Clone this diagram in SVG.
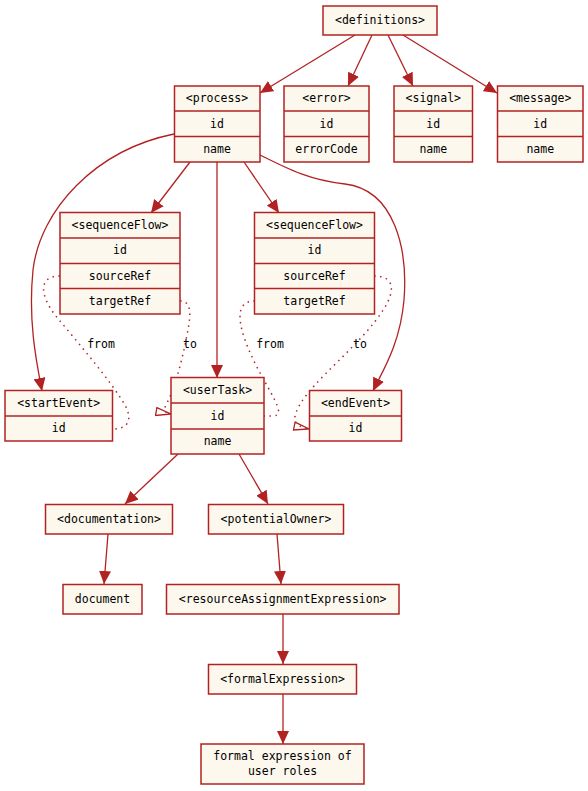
<svg xmlns="http://www.w3.org/2000/svg" width="588" height="791" viewBox="0 0 588 791">
<defs>
<style>
.box{fill:#fdf8ee;stroke:#b22222;stroke-width:1.5}
.sep{stroke:#b22222;stroke-width:1.5}
text{font-family:"DejaVu Sans Mono","Liberation Mono",monospace;font-size:11.5px;fill:#000;text-anchor:middle}
.edge{fill:none;stroke:#b22222;stroke-width:1.3}
.dot{fill:none;stroke:#b22222;stroke-width:1.5;stroke-dasharray:1.5 4.5}
</style>
<marker id="arr" markerUnits="userSpaceOnUse" markerWidth="14" markerHeight="12" refX="13" refY="6" orient="auto">
<path d="M0,0 L13,6 L0,12 Z" fill="#b22222"/>
</marker>
<marker id="open" markerUnits="userSpaceOnUse" markerWidth="17" markerHeight="10" refX="16" refY="5" orient="auto">
<path d="M1,1 L16,5 L1,9 Z" fill="none" stroke="#b22222" stroke-width="1.3"/>
</marker>
</defs>
<g id="connectors">
<path class="edge" d="M355,35 L260,93" marker-end="url(#arr)"/>
<path class="edge" d="M372,35 L348,86" marker-end="url(#arr)"/>
<path class="edge" d="M388,35 L413,86" marker-end="url(#arr)"/>
<path class="edge" d="M403,35 L497,93" marker-end="url(#arr)"/>
<path class="edge" d="M190,162 L151,213" marker-end="url(#arr)"/>
<path class="edge" d="M244,162 L279,213" marker-end="url(#arr)"/>
<path class="edge" d="M217,162 L217,378" marker-end="url(#arr)"/>
<path class="edge" d="M174,134 C95,150 40,210 33,270 C28,320 36,360 42,391" marker-end="url(#arr)"/>
<path class="edge" d="M260,155 C290,170 310,180 345,184 C395,190 408,250 404,300 C400,345 382,372 373,391" marker-end="url(#arr)"/>
<path class="edge" d="M178,454 L125,504" marker-end="url(#arr)"/>
<path class="edge" d="M239,454 L268,504" marker-end="url(#arr)"/>
<path class="edge" d="M108,534 L104,584" marker-end="url(#arr)"/>
<path class="edge" d="M277,534 L281,584" marker-end="url(#arr)"/>
<path class="edge" d="M283,614 L283,664" marker-end="url(#arr)"/>
<path class="edge" d="M283,694 L283,744" marker-end="url(#arr)"/>
<path class="dot" d="M60,276 C38,276 40,295 55,315 C80,345 110,380 125,405 C133,420 128,429 113,429"/>
<path class="dot" d="M180,301 C194,301 190,320 186,340 C181,365 174,390 166,405 C163,411 165,413 171,414" marker-end="url(#open)"/>
<path class="dot" d="M255,301 C236,301 238,320 245,340 C255,368 272,392 277,405 C282,418 274,416 264,416"/>
<path class="dot" d="M374,276 C396,276 394,292 385,307 C362,345 312,380 298,408 C292,420 294,426 309,429" marker-end="url(#open)"/>
<text x="101" y="348">from</text>
<text x="190" y="348">to</text>
<text x="270" y="348">from</text>
<text x="360" y="348">to</text>
</g>
<g id="definitions">
<rect class="box" x="323" y="6" width="114" height="29"/>
<text x="380" y="24">&lt;definitions&gt;</text>
</g>
<g id="process">
<rect class="box" x="174.5" y="86" width="85.5" height="76"/>
<line class="sep" x1="174.5" y1="111" x2="260" y2="111"/>
<line class="sep" x1="174.5" y1="136.5" x2="260" y2="136.5"/>
<text x="217" y="102">&lt;process&gt;</text>
<text x="217" y="127.5">id</text>
<text x="217" y="153">name</text>
</g>
<g id="error">
<rect class="box" x="284" y="86" width="85" height="76"/>
<line class="sep" x1="284" y1="111" x2="369" y2="111"/>
<line class="sep" x1="284" y1="136.5" x2="369" y2="136.5"/>
<text x="326.5" y="102">&lt;error&gt;</text>
<text x="326.5" y="127.5">id</text>
<text x="326.5" y="153">errorCode</text>
</g>
<g id="signal">
<rect class="box" x="394" y="86" width="78.5" height="76"/>
<line class="sep" x1="394" y1="111" x2="472.5" y2="111"/>
<line class="sep" x1="394" y1="136.5" x2="472.5" y2="136.5"/>
<text x="433.3" y="102">&lt;signal&gt;</text>
<text x="433.3" y="127.5">id</text>
<text x="433.3" y="153">name</text>
</g>
<g id="message">
<rect class="box" x="497.5" y="86" width="85.5" height="76"/>
<line class="sep" x1="497.5" y1="111" x2="583" y2="111"/>
<line class="sep" x1="497.5" y1="136.5" x2="583" y2="136.5"/>
<text x="540.3" y="102">&lt;message&gt;</text>
<text x="540.3" y="127.5">id</text>
<text x="540.3" y="153">name</text>
</g>
<g id="sequenceFlow1">
<rect class="box" x="60" y="212.5" width="120" height="101.5"/>
<line class="sep" x1="60" y1="238" x2="180" y2="238"/>
<line class="sep" x1="60" y1="263.5" x2="180" y2="263.5"/>
<line class="sep" x1="60" y1="288.5" x2="180" y2="288.5"/>
<text x="120" y="228.5">&lt;sequenceFlow&gt;</text>
<text x="120" y="254">id</text>
<text x="120" y="279.5">sourceRef</text>
<text x="120" y="304.5">targetRef</text>
</g>
<g id="sequenceFlow2">
<rect class="box" x="254.5" y="212.5" width="120" height="101.5"/>
<line class="sep" x1="254.5" y1="238" x2="374.5" y2="238"/>
<line class="sep" x1="254.5" y1="263.5" x2="374.5" y2="263.5"/>
<line class="sep" x1="254.5" y1="288.5" x2="374.5" y2="288.5"/>
<text x="314.5" y="228.5">&lt;sequenceFlow&gt;</text>
<text x="314.5" y="254">id</text>
<text x="314.5" y="279.5">sourceRef</text>
<text x="314.5" y="304.5">targetRef</text>
</g>
<g id="startEvent">
<rect class="box" x="5" y="390.5" width="107.5" height="50.5"/>
<line class="sep" x1="5" y1="416" x2="112.5" y2="416"/>
<text x="58.7" y="406.5">&lt;startEvent&gt;</text>
<text x="58.7" y="432">id</text>
</g>
<g id="userTask">
<rect class="box" x="171" y="377.5" width="93" height="76.5"/>
<line class="sep" x1="171" y1="403" x2="264" y2="403"/>
<line class="sep" x1="171" y1="429" x2="264" y2="429"/>
<text x="217.5" y="393.5">&lt;userTask&gt;</text>
<text x="217.5" y="419.5">id</text>
<text x="217.5" y="445">name</text>
</g>
<g id="endEvent">
<rect class="box" x="309.5" y="390.5" width="92" height="50.5"/>
<line class="sep" x1="309.5" y1="416" x2="401.5" y2="416"/>
<text x="355.5" y="406.5">&lt;endEvent&gt;</text>
<text x="355.5" y="432">id</text>
</g>
<g id="documentation">
<rect class="box" x="45.5" y="504.5" width="127" height="29.5"/>
<text x="109" y="522.5">&lt;documentation&gt;</text>
</g>
<g id="potentialOwner">
<rect class="box" x="208.5" y="504.5" width="135" height="29.5"/>
<text x="276" y="522.5">&lt;potentialOwner&gt;</text>
</g>
<g id="document">
<rect class="box" x="63" y="584.5" width="79" height="29.5"/>
<text x="102.5" y="602.5">document</text>
</g>
<g id="resourceAssignmentExpression">
<rect class="box" x="166.5" y="584.5" width="232.5" height="29.5"/>
<text x="282.7" y="602.5">&lt;resourceAssignmentExpression&gt;</text>
</g>
<g id="formalExpression">
<rect class="box" x="208.5" y="664.5" width="148" height="29.5"/>
<text x="282.5" y="682.5">&lt;formalExpression&gt;</text>
</g>
<g id="formalExpressionText">
<rect class="box" x="201" y="744" width="163" height="40"/>
<text x="282.5" y="760">formal expression of</text>
<text x="282.5" y="774.5">user roles</text>
</g>
</svg>
